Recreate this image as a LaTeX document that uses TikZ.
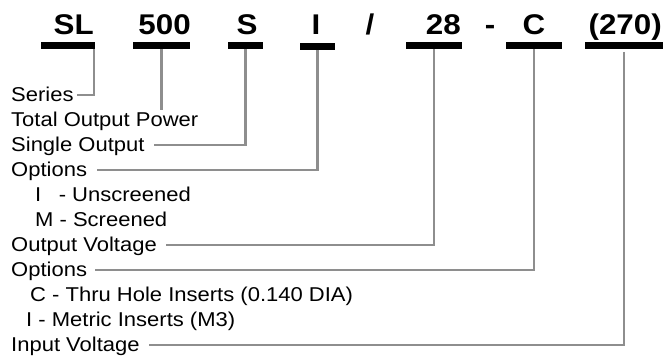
\documentclass[tikz,border=0pt]{standalone}
\usepackage{fontspec}
\setmainfont{Liberation Sans}[FakeStretch=1.1]
\usepackage{tikz}

\definecolor{leadgray}{HTML}{8E8E8E}

\tikzset{
    code/.style={font=\fontsize{28.5}{30}\selectfont\bfseries, inner sep=0pt},
    bar/.style={fill=black, inner sep=0pt, minimum height=7.3pt},
    lbl/.style={font=\fontsize{20}{24}\selectfont, inner sep=0pt, anchor=base west, text height=16pt, text depth=4pt},
    lead/.style={draw=leadgray, line width=2.3pt}
}

\begin{document}
\begin{tikzpicture}[x=1pt, y=-1pt]
    \useasboundingbox (0, 0) rectangle (665, 358);

    % draw part number
    \node[code, anchor=base east] (cSL) at (94, 35) {SL};
    \node[code, anchor=base east] (c500) at (191, 35) {500};
    \node[code, anchor=base] (cS) at (247, 35) {S};
    \node[code, anchor=base] (cI) at (316, 35) {I};
    \node[code, anchor=base] (cslash) at (370, 35) {/};
    \node[code, anchor=base east] (c28) at (461, 35) {28};
    \node[code, anchor=base] (cdash) at (490, 35) {-};
    \node[code, anchor=base] (cC) at (534, 35) {C};
    \node[code, anchor=base east] (c270) at (662, 35) {(270)};

    % draw black bars under the fields
    \node[bar, minimum width=54pt] (bSL) at (68, 45.3) {};
    \node[bar, minimum width=57pt] (b500) at (161.5, 45.3) {};
    \node[bar, minimum width=35pt] (bS) at (245.5, 45.3) {};
    \node[bar, minimum width=35pt] (bI) at (317.5, 46.2) {};
    \node[bar, minimum width=56pt] (b28) at (434, 45.3) {};
    \node[bar, minimum width=56pt] (bC) at (534, 45.3) {};
    \node[bar, minimum width=78pt] (b270) at (624, 45.3) {};

    % draw the labels
    \node[lbl] (series) at (11, 101.3) {Series};
    \node[lbl] (power) at (11, 126.3) {Total Output Power};
    \node[lbl] (single) at (11, 151.3) {Single Output};
    \node[lbl] (opt1) at (11, 176.3) {Options};
    \node[lbl] (unscr) at (35, 201.3) {\makebox[1.18em][l]{I}- Unscreened};
    \node[lbl] (scr) at (35, 226.3) {M - Screened};
    \node[lbl] (outv) at (11, 251.3) {Output Voltage};
    \node[lbl] (opt2) at (11, 276.3) {Options};
    \node[lbl] (thru) at (30, 301.3) {C - Thru Hole Inserts (0.140 DIA)};
    \node[lbl] (metric) at (26, 326.3) {I - Metric Inserts (M3)};
    \node[lbl] (inv) at (11, 351.3) {Input Voltage};

    % draw gray lead lines
    \draw[lead] ([xshift=-1pt]bSL.south east) |- ([xshift=3pt]series.east);
    \draw[lead] (b500.south) -- (b500.south |- power.north);
    \draw[lead] (bS.south) |- ([xshift=9pt]single.east);
    \draw[lead] (bI.south) |- ([xshift=10pt]opt1.east);
    \draw[lead] (b28.south) |- ([xshift=9pt]outv.east);
    \draw[lead] (bC.south) |- ([xshift=8pt]opt2.east);
    \draw[lead] ([yshift=-2.7pt]b270.south) |- ([xshift=9pt]inv.east);

\end{tikzpicture}
\end{document}
